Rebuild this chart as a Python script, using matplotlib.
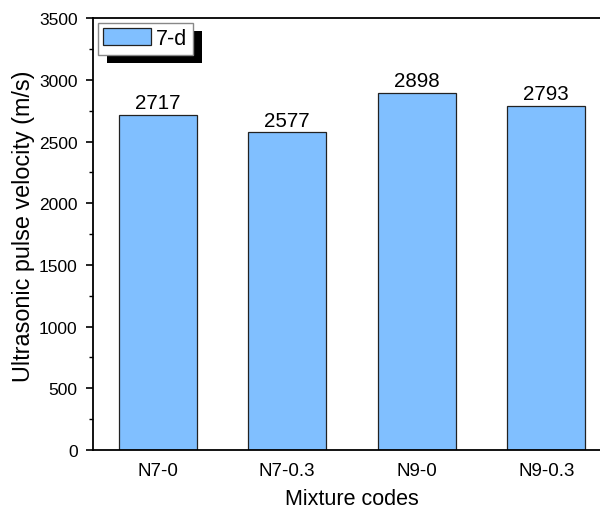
import matplotlib
matplotlib.use("Agg")
import matplotlib.pyplot as plt
from matplotlib.patches import Rectangle
from matplotlib.ticker import MultipleLocator

plt.rcParams['font.family'] = ['Liberation Sans', 'DejaVu Sans']

categories = ["N7-0", "N7-0.3", "N9-0", "N9-0.3"]
velocity_7d = [2717, 2577, 2898, 2793]
series_label = "7-d"

fig = plt.figure(figsize=(6.0, 5.1), dpi=100)
ax = fig.add_axes([93 / 600, 59 / 510, 518 / 600, 431.7 / 510])

x = list(range(len(categories)))
bars = ax.bar(x, velocity_7d, width=0.6, color="#80BFFF", edgecolor="#222222",
              linewidth=0.9, label=series_label, zorder=2)

for xi, v in zip(x, velocity_7d):
    ax.text(xi, v + 20, f"{v}", ha="center", va="bottom", fontsize=14.8)

ax.set_xlim(-0.5, 3.5)
ax.set_ylim(0, 3500)
ax.set_xticks(x)
ax.set_xticklabels(categories, fontsize=13.5)
ax.yaxis.set_major_locator(MultipleLocator(500))
ax.yaxis.set_minor_locator(MultipleLocator(250))
ax.tick_params(axis="y", which="major", direction="out", length=5, width=1.2,
               labelsize=12.5, pad=6)
ax.tick_params(axis="y", which="minor", direction="out", length=3, width=1.0)
ax.tick_params(axis="x", which="both", length=0, pad=9)

for side in ("left", "bottom", "top"):
    ax.spines[side].set_linewidth(1.3)
ax.spines["right"].set_visible(False)

ax.set_xlabel("Mixture codes", fontsize=15.5, labelpad=6)
ax.set_ylabel("Ultrasonic pulse velocity (m/s)", fontsize=16.8)
ax.yaxis.set_label_coords(-0.112, 0.521)

leg = ax.legend(loc="upper left", bbox_to_anchor=(5 / 518, 1 - 4.5 / 431.7),
                fontsize=15.5, frameon=True, fancybox=False, edgecolor="#888888",
                framealpha=1, handlelength=2.2, handleheight=0.8,
                handletextpad=0.25, borderpad=0.25, borderaxespad=0)
leg.get_frame().set_linewidth(1.0)
leg.set_zorder(5)

# solid drop shadow behind the legend box
fig.canvas.draw()
bb = leg.get_window_extent().transformed(fig.transFigure.inverted())
dx, dy = 9 / 600, -8 / 510
shadow = Rectangle((bb.x0 + dx, bb.y0 + dy), bb.width, bb.height,
                   transform=fig.transFigure, facecolor="black",
                   edgecolor="none", zorder=4, clip_on=False)
ax.add_patch(shadow)

fig.savefig("out.png", dpi=100)
